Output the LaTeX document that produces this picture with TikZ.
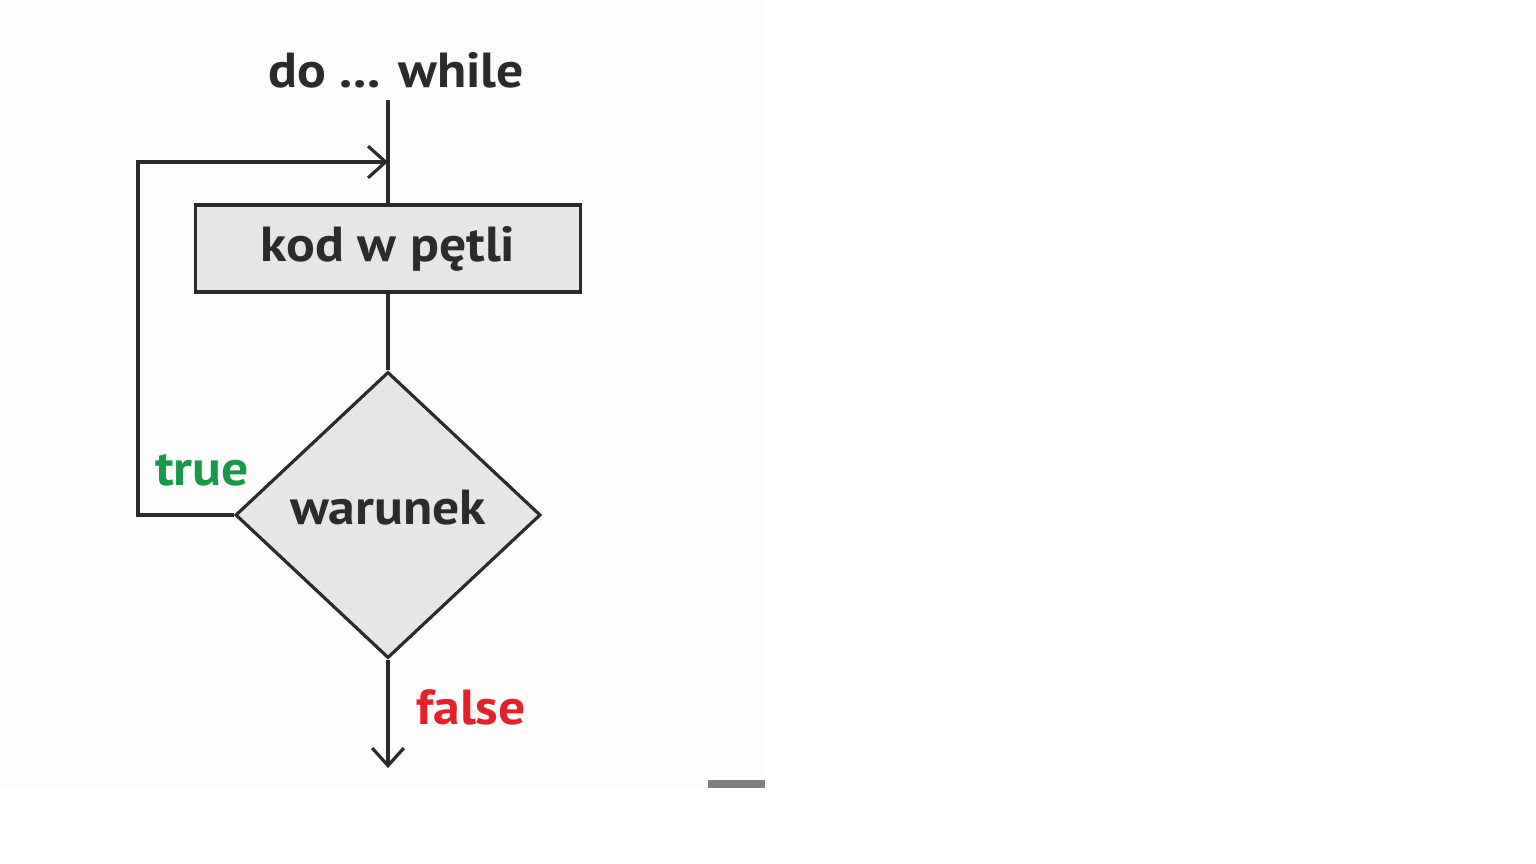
\documentclass[tikz,border=0pt]{standalone}
\usepackage{fontspec}
\setmainfont{PT Sans}[FakeStretch=1.09]
\usetikzlibrary{shapes.geometric,arrows.meta}
\definecolor{boxgray}{HTML}{E6E6E6}
\definecolor{linegray}{HTML}{2B2B2B}
\definecolor{truegreen}{HTML}{17984A}
\definecolor{falsered}{HTML}{E3202C}
\definecolor{panel}{HTML}{FCFCFC}
\definecolor{bargray}{HTML}{808080}

\begin{document}
\begin{tikzpicture}[x=0.01cm,y=-0.01cm,
    every node/.style={font=\fontsize{14}{16}\selectfont\bfseries,text=linegray},
    flow/.style={line width=0.9pt,draw=linegray},
    block/.style={rectangle,flow,fill=boxgray,minimum width=3.84cm,minimum height=0.87cm,inner sep=0pt},
    test/.style={diamond,flow,fill=boxgray,minimum width=3.05cm,minimum height=2.86cm,inner sep=0pt,text depth=4.5pt},
    tip/.style={-{Straight Barb[length=5pt,width=9pt]}}]
        \useasboundingbox (0,0) rectangle (1536,864);
        \fill[panel] (0,0) rectangle (765,788);% light panel
        \fill[bargray] (708,780) rectangle (765,788);
        \node (title) at (396,70) {do ... while};
        \node[block] (code) at (388,248.5) {kod w pętli};
        \node[test] (cond) at (388,515) {warunek};
        \node[text=truegreen] (yes) at (202,470) {true};
        \node[text=falsered] (no) at (471,707) {false};
        \coordinate (entry) at (388,100);
        \coordinate (back) at (138,162);
        \coordinate (join) at (388,162);
        \coordinate (exit) at (388,768);
        \draw[flow] (entry) -- (code.north);
        \draw[flow] (code.south) -- (cond.north);
        \draw[flow,tip] (cond.west) -| (back) -- (join);% loop back
        \draw[flow,tip] (cond.south) -- (exit);
    \end{tikzpicture}
\end{document}
